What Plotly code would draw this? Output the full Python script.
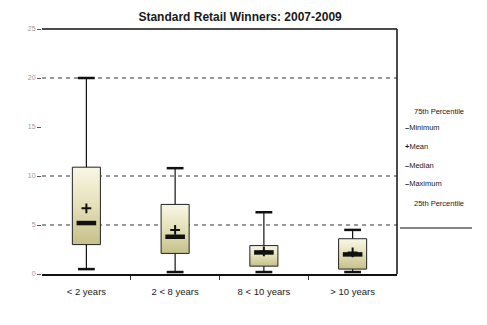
import plotly.graph_objects as go

# Box-plot statistics per experience band
categories = ["< 2 years", "2 < 8 years", "8 < 10 years", "> 10 years"]
minimum = [0.5, 0.2, 0.2, 0.2]
q1 = [3.0, 2.1, 0.8, 0.5]
median = [5.2, 3.8, 2.2, 2.0]
mean = [6.7, 4.5, 2.3, 2.2]
q3 = [10.9, 7.1, 2.9, 3.6]
maximum = [20.0, 10.8, 6.3, 4.5]

y_ticks = [0, 5, 10, 15, 20, 25]
grid_levels = [5, 10, 20]
legend_labels = ["75th Percentile", "Minimum", "Mean", "Median", "Maximum", "25th Percentile"]
legend_marks = ["", "\u2013", "+", "\u2013", "\u2013", ""]

xpos = [i + 0.5 for i in range(len(categories))]
half = 0.158

fig = go.Figure()

# dashed horizontal gridlines
for g in grid_levels:
    fig.add_shape(type="line", xref="paper", yref="y", x0=0, x1=1, y0=g, y1=g,
                  line=dict(color="#333333", width=1, dash="4px,4px"), layer="below")

# whiskers from minimum to maximum
wx, wy = [], []
for x, lo, hi in zip(xpos, minimum, maximum):
    wx += [x, x, None]
    wy += [lo, hi, None]
fig.add_trace(go.Scatter(x=wx, y=wy, mode="lines", line=dict(color="#111111", width=1.2),
                         hoverinfo="skip", showlegend=False))

# interquartile boxes with a vertical shading
for x, lo, hi in zip(xpos, q1, q3):
    fig.add_trace(go.Scatter(
        x=[x - half, x + half, x + half, x - half, x - half],
        y=[lo, lo, hi, hi, lo],
        mode="lines", fill="toself",
        line=dict(color="#222222", width=1),
        fillgradient=dict(type="vertical",
                          colorscale=[[0, "#c6c089"], [0.5, "#e4e0b8"], [1, "#f8f7e6"]]),
        hoverinfo="skip", showlegend=False))

cap = dict(symbol="line-ew", size=12, line=dict(color="#111111", width=2.5))
fig.add_trace(go.Scatter(x=xpos, y=minimum, mode="markers", marker=cap, name="Minimum", showlegend=False))
fig.add_trace(go.Scatter(x=xpos, y=maximum, mode="markers", marker=cap, name="Maximum", showlegend=False))
fig.add_trace(go.Scatter(x=xpos, y=median, mode="markers", name="Median", showlegend=False,
                         marker=dict(symbol="line-ew", size=14, line=dict(color="#111111", width=4.5))))
fig.add_trace(go.Scatter(x=xpos, y=mean, mode="markers", name="Mean", showlegend=False,
                         marker=dict(symbol="cross-thin", size=7, line=dict(color="#111111", width=2))))

# plot frame: top and right borders
fig.add_shape(type="line", xref="paper", yref="paper", x0=0, x1=1, y0=1, y1=1,
              line=dict(color="#111111", width=1.5))
fig.add_shape(type="line", xref="paper", yref="paper", x0=1, x1=1, y0=0, y1=1,
              line=dict(color="#111111", width=1.5))

# legend block to the right of the plot
L, W, T, H = 42, 355, 29, 245
def px_x(p):
    return (p - L) / W
def px_y(p):
    return (T + H - p) / H

leg_y = [111, 128, 146, 165, 183, 203]
for lab, mk, yy in zip(legend_labels, legend_marks, leg_y):
    if mk:
        txt = "<b>" + mk + "</b>" + lab
        x0 = 403
    else:
        txt = lab
        x0 = 412
    fig.add_annotation(xref="paper", yref="paper", x=px_x(x0), y=px_y(yy), text=txt,
                       showarrow=False, xanchor="left", yanchor="middle",
                       font=dict(family="Liberation Sans, Arial", size=7.5, color="#1a1a1a"))
fig.add_shape(type="line", xref="paper", yref="paper", x0=px_x(400), x1=px_x(472),
              y0=px_y(228), y1=px_y(228), line=dict(color="#111111", width=1.2))

fig.update_layout(
    width=487, height=325,
    margin=dict(l=L, r=487 - L - W, t=T, b=325 - T - H),
    paper_bgcolor="white", plot_bgcolor="white",
    showlegend=False,
    title=dict(text="<b>Standard Retail Winners: 2007-2009</b>", x=0.493, xanchor="center",
               y=1 - 17 / 325, yanchor="middle",
               font=dict(family="Liberation Sans, Arial", size=12, color="#1a1a1a")),
    xaxis=dict(range=[0, 4], tickvals=xpos, ticktext=categories, ticks="", showgrid=False,
               zeroline=False, showline=True, linecolor="#111111", linewidth=1.5,
               tickfont=dict(family="Liberation Sans, Arial", size=9.5, color="#222222"),
               ticklabelstandoff=8,
               minor=dict(tickvals=[1, 2, 3], ticks="outside", ticklen=4, tickcolor="#333333")),
    yaxis=dict(range=[0, 25], tickvals=y_ticks, ticks="outside", ticklen=4, tickcolor="#555555",
               showgrid=False, zeroline=False, showline=False,
               tickfont=dict(family="Liberation Sans, Arial", size=7, color="#999999")),
)

fig.write_html("out.html")
